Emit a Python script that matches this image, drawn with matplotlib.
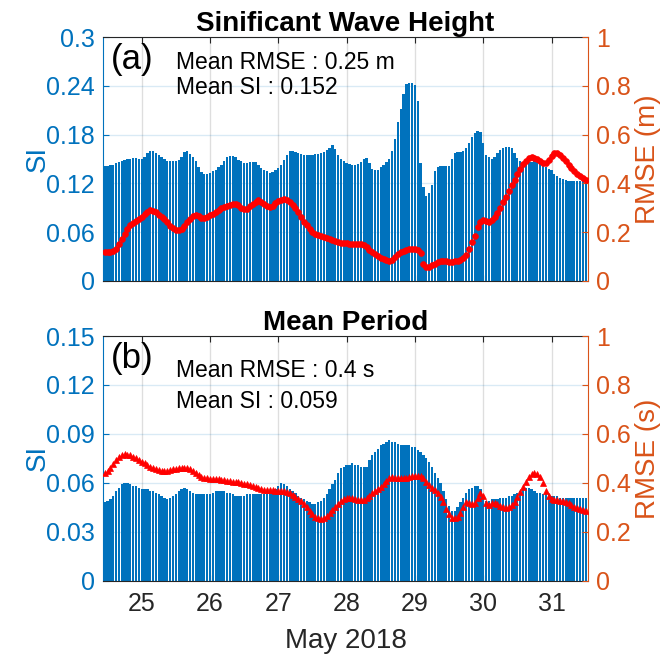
import matplotlib
matplotlib.use('Agg')
import matplotlib.pyplot as plt
import matplotlib.dates as mdates
import pandas as pd

plt.rcParams['font.family'] = ['Liberation Sans', 'DejaVu Sans']

BLUE = '#0072BD'      # SI axis / bars
ORANGE = '#D95319'    # RMSE axis
DARK = '#262626'

# hourly statistics, first value at 2018-05-24 11:00
start_time = '2018-05-24 11:00'

# significant wave height: scatter index (bars) and RMSE in m (dots)
hs_si = [
    0.141, 0.141, 0.142, 0.143, 0.145, 0.146, 0.147, 0.149, 0.150, 0.150,
    0.151, 0.151, 0.150, 0.150, 0.153, 0.157, 0.160, 0.160, 0.157, 0.155,
    0.152, 0.150, 0.148, 0.147, 0.147, 0.148, 0.149, 0.153, 0.158, 0.160,
    0.156, 0.152, 0.147, 0.140, 0.134, 0.132, 0.132, 0.133, 0.135, 0.137,
    0.140, 0.143, 0.148, 0.152, 0.154, 0.154, 0.152, 0.149, 0.147, 0.145,
    0.145, 0.146, 0.146, 0.146, 0.143, 0.139, 0.137, 0.135, 0.133, 0.134,
    0.136, 0.139, 0.143, 0.149, 0.155, 0.160, 0.160, 0.159, 0.157, 0.156,
    0.155, 0.155, 0.155, 0.155, 0.156, 0.156, 0.157, 0.158, 0.161, 0.164,
    0.167, 0.162, 0.155, 0.150, 0.147, 0.145, 0.144, 0.143, 0.143, 0.144,
    0.146, 0.150, 0.151, 0.145, 0.138, 0.137, 0.137, 0.140, 0.143, 0.146,
    0.150, 0.160, 0.175, 0.195, 0.212, 0.230, 0.242, 0.244, 0.244, 0.241,
    0.222, 0.145, 0.116, 0.104, 0.108, 0.118, 0.135, 0.140, 0.141, 0.141,
    0.141, 0.141, 0.150, 0.157, 0.158, 0.159, 0.160, 0.163, 0.170, 0.177,
    0.182, 0.185, 0.183, 0.170, 0.155, 0.152, 0.150, 0.152, 0.157, 0.161,
    0.164, 0.165, 0.165, 0.163, 0.157, 0.151, 0.148, 0.146, 0.145, 0.146,
    0.146, 0.147, 0.146, 0.144, 0.141, 0.140, 0.138, 0.136, 0.132, 0.129,
    0.126, 0.125, 0.124, 0.123, 0.123, 0.123, 0.123, 0.123, 0.123, 0.123,
]
hs_rmse = [
    0.117, 0.116, 0.118, 0.122, 0.132, 0.150, 0.171, 0.190, 0.212, 0.228,
    0.238, 0.246, 0.254, 0.262, 0.273, 0.283, 0.290, 0.287, 0.281, 0.272,
    0.262, 0.254, 0.240, 0.226, 0.215, 0.209, 0.207, 0.213, 0.226, 0.240,
    0.254, 0.265, 0.268, 0.264, 0.259, 0.259, 0.263, 0.268, 0.275, 0.283,
    0.291, 0.298, 0.302, 0.307, 0.312, 0.316, 0.316, 0.310, 0.300, 0.294,
    0.296, 0.306, 0.316, 0.325, 0.330, 0.325, 0.314, 0.306, 0.303, 0.308,
    0.318, 0.327, 0.332, 0.335, 0.333, 0.322, 0.310, 0.300, 0.283, 0.262,
    0.243, 0.228, 0.212, 0.200, 0.193, 0.187, 0.183, 0.179, 0.174, 0.170,
    0.166, 0.164, 0.160, 0.157, 0.155, 0.154, 0.152, 0.151, 0.151, 0.150,
    0.150, 0.148, 0.140, 0.128, 0.117, 0.108, 0.100, 0.094, 0.090, 0.086,
    0.083, 0.086, 0.098, 0.110, 0.118, 0.124, 0.128, 0.130, 0.130, 0.129,
    0.126, 0.114, 0.070, 0.057, 0.056, 0.063, 0.069, 0.075, 0.080, 0.082,
    0.080, 0.077, 0.078, 0.080, 0.083, 0.087, 0.093, 0.104, 0.130, 0.158,
    0.185, 0.222, 0.240, 0.249, 0.247, 0.243, 0.248, 0.260, 0.278, 0.300,
    0.322, 0.345, 0.368, 0.393, 0.413, 0.437, 0.460, 0.479, 0.493, 0.502,
    0.507, 0.506, 0.500, 0.491, 0.484, 0.484, 0.495, 0.512, 0.523, 0.526,
    0.517, 0.504, 0.490, 0.475, 0.462, 0.450, 0.440, 0.430, 0.421, 0.413,
]

# mean period: scatter index (bars) and RMSE in s (triangles)
tm_si = [
    0.048, 0.049, 0.050, 0.052, 0.055, 0.057, 0.059, 0.060, 0.060, 0.059,
    0.058, 0.058, 0.057, 0.056, 0.056, 0.056, 0.055, 0.055, 0.054, 0.053,
    0.052, 0.051, 0.050, 0.051, 0.052, 0.053, 0.055, 0.056, 0.057, 0.056,
    0.055, 0.054, 0.053, 0.053, 0.053, 0.053, 0.053, 0.053, 0.054, 0.055,
    0.055, 0.055, 0.055, 0.054, 0.054, 0.053, 0.052, 0.052, 0.052, 0.052,
    0.053, 0.053, 0.053, 0.053, 0.053, 0.053, 0.053, 0.053, 0.053, 0.055,
    0.056, 0.058, 0.060, 0.059, 0.058, 0.056, 0.055, 0.054, 0.052, 0.051,
    0.050, 0.049, 0.048, 0.047, 0.047, 0.048, 0.049, 0.051, 0.053, 0.056,
    0.059, 0.062, 0.066, 0.069, 0.070, 0.071, 0.071, 0.072, 0.071, 0.071,
    0.070, 0.070, 0.070, 0.074, 0.077, 0.079, 0.081, 0.083, 0.084, 0.085,
    0.086, 0.085, 0.085, 0.084, 0.083, 0.083, 0.083, 0.083, 0.082, 0.082,
    0.080, 0.079, 0.077, 0.075, 0.073, 0.070, 0.066, 0.063, 0.060, 0.055,
    0.050, 0.046, 0.043, 0.043, 0.045, 0.048, 0.051, 0.054, 0.056, 0.057,
    0.058, 0.058, 0.056, 0.052, 0.049, 0.049, 0.050, 0.050, 0.050, 0.051,
    0.051, 0.051, 0.052, 0.052, 0.053, 0.054, 0.055, 0.056, 0.057, 0.057,
    0.056, 0.055, 0.054, 0.054, 0.053, 0.053, 0.053, 0.052, 0.052, 0.052,
    0.051, 0.051, 0.051, 0.051, 0.051, 0.051, 0.051, 0.051, 0.051, 0.051,
]
tm_rmse = [
    0.440, 0.448, 0.460, 0.477, 0.493, 0.505, 0.513, 0.516, 0.515, 0.512,
    0.507, 0.500, 0.494, 0.487, 0.480, 0.473, 0.466, 0.460, 0.455, 0.451,
    0.448, 0.448, 0.450, 0.452, 0.455, 0.458, 0.460, 0.461, 0.461, 0.461,
    0.458, 0.450, 0.441, 0.432, 0.425, 0.421, 0.418, 0.417, 0.416, 0.415,
    0.414, 0.413, 0.410, 0.409, 0.407, 0.405, 0.403, 0.402, 0.400, 0.397,
    0.394, 0.391, 0.387, 0.383, 0.379, 0.375, 0.372, 0.371, 0.369, 0.369,
    0.368, 0.367, 0.366, 0.365, 0.362, 0.357, 0.351, 0.343, 0.335, 0.325,
    0.313, 0.300, 0.285, 0.271, 0.262, 0.256, 0.254, 0.258, 0.264, 0.275,
    0.289, 0.301, 0.313, 0.324, 0.332, 0.336, 0.339, 0.337, 0.333, 0.331,
    0.330, 0.330, 0.337, 0.347, 0.358, 0.367, 0.376, 0.385, 0.396, 0.406,
    0.420, 0.425, 0.421, 0.418, 0.418, 0.418, 0.419, 0.422, 0.427, 0.428,
    0.428, 0.426, 0.419, 0.405, 0.393, 0.380, 0.369, 0.357, 0.341, 0.320,
    0.292, 0.272, 0.258, 0.256, 0.260, 0.278, 0.300, 0.321, 0.316, 0.312,
    0.318, 0.340, 0.360, 0.345, 0.318, 0.308, 0.316, 0.319, 0.315, 0.306,
    0.300, 0.298, 0.300, 0.308, 0.320, 0.342, 0.362, 0.384, 0.405, 0.425,
    0.436, 0.442, 0.437, 0.424, 0.400, 0.368, 0.348, 0.334, 0.330, 0.328,
    0.327, 0.325, 0.322, 0.318, 0.311, 0.303, 0.296, 0.292, 0.289, 0.286,
]

hs_si_ticks = [0, 0.06, 0.12, 0.18, 0.24, 0.3]
tm_si_ticks = [0, 0.03, 0.06, 0.09, 0.12, 0.15]
rmse_ticks = [0, 0.2, 0.4, 0.6, 0.8, 1]
day_ticks = ['2018-05-25', '2018-05-26', '2018-05-27', '2018-05-28',
             '2018-05-29', '2018-05-30', '2018-05-31']

TICK_FS = 18
LABEL_FS = 20


def draw_panel(fig, rect, times, si, rmse, si_ticks, rmse_label, marker,
               title, tag, stats, stat_y, show_dates):
    """
    One panel: SI bars on the left axis, RMSE markers on the right axis.
    """
    ax = fig.add_axes(rect)
    width = 0.8 / 24.0
    ax.bar(times, si, width=width, color=BLUE, linewidth=0, zorder=2)
    ax.set_ylim(0, si_ticks[-1])
    ax.set_yticks(si_ticks)
    ax.set_yticklabels(['%g' % t for t in si_ticks])
    ax.set_xlim(times[0] - 0.5 / 24.0, times[-1] + 0.7 / 24.0)
    ax.set_xticks(mdates.date2num(pd.to_datetime(day_ticks)))
    ax.xaxis.set_major_formatter(mdates.DateFormatter('%d'))

    # grid: light blue horizontals, grey verticals
    ax.set_axisbelow(True)
    ax.grid(axis='y', color=BLUE, alpha=0.15, linewidth=1.0)
    ax.grid(axis='x', color=DARK, alpha=0.15, linewidth=1.0)

    ax.tick_params(axis='y', colors=BLUE, labelsize=TICK_FS, direction='in',
                   length=4, width=0.8, pad=6)
    ax.tick_params(axis='x', colors=DARK, labelsize=TICK_FS, direction='in',
                   length=4, width=0.8, pad=8, top=True)
    if not show_dates:
        ax.tick_params(axis='x', labelbottom=False)
    for side in ['top', 'bottom']:
        ax.spines[side].set_color(DARK)
    ax.spines['left'].set_color(BLUE)
    ax.spines['right'].set_visible(False)
    ax.set_ylabel('SI', color=BLUE, fontsize=LABEL_FS)
    ax.yaxis.set_label_coords(-0.108, 0.5)
    ax.set_title(title, fontsize=LABEL_FS, fontweight='bold', pad=4)

    ax2 = ax.twinx()
    if marker == 'o':
        ax2.plot(times, rmse, 'o', color='r', markersize=4.2, mec='r',
                 mew=0.5, zorder=3)
    else:
        ax2.plot(times, rmse, '^', color='r', markersize=4.5, mec='r',
                 mew=0.5, zorder=3)
    ax2.set_ylim(0, 1)
    ax2.set_yticks(rmse_ticks)
    ax2.set_yticklabels(['%g' % t for t in rmse_ticks])
    ax2.tick_params(axis='y', colors=ORANGE, labelsize=TICK_FS, direction='in',
                    length=4, width=0.8, pad=6)
    for side in ['top', 'bottom', 'left']:
        ax2.spines[side].set_visible(False)
    ax2.spines['right'].set_color(ORANGE)
    ax2.set_ylabel(rmse_label, color=ORANGE, fontsize=LABEL_FS)
    ax2.yaxis.set_label_coords(1.098, 0.5)

    # panel tag and mean statistics
    ax2.text(0.06, 0.91, tag, transform=ax.transAxes, fontsize=25,
             ha='center', va='center', color='k')
    ax2.text(0.15, stat_y[0], stats[0], transform=ax.transAxes, fontsize=16.5,
             ha='left', va='center', color='k')
    ax2.text(0.15, stat_y[1], stats[1], transform=ax.transAxes, fontsize=16.5,
             ha='left', va='center', color='k')
    return ax


def main():
    times = mdates.date2num(pd.date_range(start_time, periods=len(hs_si),
                                          freq='h'))
    fig = plt.figure(figsize=(6.69, 6.59), dpi=100)

    draw_panel(fig, [0.1544, 0.574, 0.724, 0.3695], times, hs_si, hs_rmse,
               hs_si_ticks, 'RMSE (m)', 'o', 'Sinificant Wave Height', '(a)',
               ['Mean RMSE : 0.25 m', 'Mean SI : 0.152'], [0.895, 0.794],
               False)
    ax = draw_panel(fig, [0.1544, 0.1188, 0.724, 0.3713], times, tm_si,
                    tm_rmse, tm_si_ticks, 'RMSE (s)', '^', 'Mean Period',
                    '(b)', ['Mean RMSE : 0.4 s', 'Mean SI : 0.059'],
                    [0.858, 0.731], True)
    ax.set_xlabel('May 2018', color=DARK, fontsize=LABEL_FS)
    ax.xaxis.set_label_coords(0.5, -0.195)

    fig.savefig('out.png', dpi=100)


if __name__ == '__main__':
    main()
